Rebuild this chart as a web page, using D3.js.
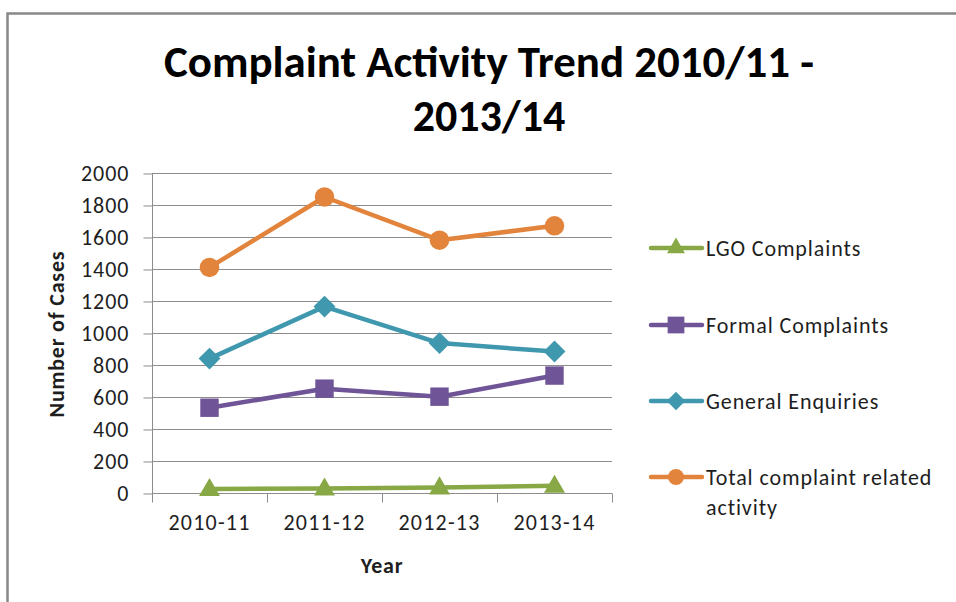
<!DOCTYPE html>
<html>
  <head>
    <title>Complaint Activity Trend</title>
    <script src="https://d3js.org/d3.v7.min.js"></script>
    <style>
      body {
        margin: 0;
        background: #fff;
      }
      svg text {
        font-family: Carlito, Lato, sans-serif;
        fill: #1e1e1e;
      }
    </style>
  </head>
  <body>
    <script>
      const years = ['2010-11', '2011-12', '2012-13', '2013-14'];
      const lgoComplaints = [25, 28, 35, 45];
      const formalComplaints = [533, 652, 602, 734];
      const generalEnquiries = [840, 1165, 937, 884];
      const totalActivity = [1410, 1850, 1580, 1670];
      const seriesNames = ['LGO Complaints', 'Formal Complaints', 'General Enquiries', 'Total complaint related activity'];
      const yTicks = [0, 200, 400, 600, 800, 1000, 1200, 1400, 1600, 1800, 2000];

      const w = 956;
      const h = 602;

      const series = [
        {name: seriesNames[0], values: lgoComplaints, color: '#87a845', shape: 'triangle'},
        {name: seriesNames[1], values: formalComplaints, color: '#6f5597', shape: 'square'},
        {name: seriesNames[2], values: generalEnquiries, color: '#3f98ae', shape: 'diamond'},
        {name: seriesNames[3], values: totalActivity, color: '#e2843c', shape: 'circle'}
      ];

      const xScale = d3.scaleBand()
                       .domain(years)
                       .range([152, 612]);

      const yScale = d3.scaleLinear()
                       .domain([0, 2000])
                       .range([493, 173]);

      const svg = d3.select('body')
                    .append('svg')
                    .attr('width', w)
                    .attr('height', h);

      // outer chart border (runs off the right and bottom of the picture)
      svg.append('path')
         .attr('d', `M7.5,${h + 5} V13.5 H${w + 5}`)
         .attr('fill', 'none')
         .attr('stroke', '#888')
         .attr('stroke-width', 2.5);

      // title
      const title = svg.append('text')
                       .attr('text-anchor', 'middle')
                       .style('font-size', '44px')
                       .style('font-weight', 'bold')
                       .style('fill', '#000');
      title.append('tspan').attr('x', 489).attr('y', 77)
           .attr('textLength', 650).attr('lengthAdjust', 'spacingAndGlyphs')
           .text('Complaint Activity Trend 2010/11 -');
      title.append('tspan').attr('x', 489).attr('y', 131)
           .text('2013/14');

      // gridlines
      svg.append('g')
         .selectAll('line')
         .data(yTicks.filter(d => d > 0))
         .enter()
         .append('line')
         .attr('x1', 152)
         .attr('x2', 612)
         .attr('y1', d => Math.round(yScale(d)) + 0.5)
         .attr('y2', d => Math.round(yScale(d)) + 0.5)
         .attr('stroke', '#8c8c8c')
         .attr('stroke-width', 1);

      const yAxis = d3.axisLeft(yScale)
                      .tickValues(yTicks)
                      .tickFormat(d3.format('d'))
                      .tickSize(9)
                      .tickPadding(14);

      const gy = svg.append('g')
                    .attr('id', 'y-axis')
                    .attr('transform', 'translate(152.5, 0.5)')
                    .call(yAxis);
      gy.select('.domain').attr('stroke', '#8c8c8c').attr('d', 'M0,173V493');
      gy.selectAll('.tick line').attr('stroke', '#8c8c8c');
      gy.selectAll('.tick text')
        .style('font-size', '22px')
        .style('letter-spacing', '1px')
        .style('font-family', 'Carlito, Lato, sans-serif')
        .attr('fill', '#1e1e1e');

      const xAxis = d3.axisBottom(xScale)
                      .tickSize(0)
                      .tickPadding(21);

      const gx = svg.append('g')
                    .attr('id', 'x-axis')
                    .attr('transform', 'translate(0, 493.5)')
                    .call(xAxis);
      gx.select('.domain').attr('stroke', '#8c8c8c').attr('d', 'M152,0H612');
      gx.selectAll('.tick text')
        .style('font-size', '22px')
        .style('letter-spacing', '1.2px')
        .style('font-family', 'Carlito, Lato, sans-serif')
        .attr('fill', '#1e1e1e');

      // category boundary ticks
      const bounds = years.map(d => xScale(d)).concat([xScale.range()[1]]);
      gx.selectAll('.bound')
        .data(bounds)
        .enter()
        .append('line')
        .attr('class', 'bound')
        .attr('x1', d => Math.round(d) + 0.5)
        .attr('x2', d => Math.round(d) + 0.5)
        .attr('y1', 0)
        .attr('y2', 9)
        .attr('stroke', '#8c8c8c');

      // axis titles
      svg.append('text')
         .attr('transform', 'translate(64, 334) rotate(-90)')
         .attr('text-anchor', 'middle')
         .style('font-size', '22px')
         .style('letter-spacing', '0.8px')
         .style('font-weight', 'bold')
         .text('Number of Cases');

      svg.append('text')
         .attr('x', 382)
         .attr('y', 573)
         .attr('text-anchor', 'middle')
         .style('font-size', '22px')
         .style('letter-spacing', '0.8px')
         .style('font-weight', 'bold')
         .text('Year');

      const squareSym = d3.symbol().type(d3.symbolSquare);
      const symbolFor = {
        triangle: {d: d3.symbol().type(d3.symbolTriangle).size(190)(), rot: 0},
        square: {d: squareSym.size(340)(), rot: 0},
        diamond: {d: squareSym.size(240)(), rot: 45},
        circle: {d: d3.symbol().type(d3.symbolCircle).size(300)(), rot: 0}
      };

      const cx = d => xScale(d) + xScale.bandwidth() / 2;

      const line = d3.line()
                     .x(d => cx(d.year))
                     .y(d => yScale(d.value));

      series.forEach(s => {
        const pts = years.map((y, i) => ({year: y, value: s.values[i]}));
        const g = svg.append('g');
        g.append('path')
         .datum(pts)
         .attr('d', line)
         .attr('fill', 'none')
         .attr('stroke', s.color)
         .attr('stroke-width', 4.5)
         .attr('stroke-linejoin', 'round');
        g.selectAll('path.marker')
         .data(pts)
         .enter()
         .append('path')
         .attr('class', 'marker')
         .attr('d', symbolFor[s.shape].d)
         .attr('transform', d => `translate(${cx(d.year)}, ${yScale(d.value) + (s.shape === 'triangle' ? 1 : 0)}) rotate(${symbolFor[s.shape].rot})`)
         .attr('fill', s.color);
      });

      // legend
      const legendY = [248, 325, 401, 477];
      const legendSymbol = {
        triangle: {d: d3.symbol().type(d3.symbolTriangle).size(140)(), rot: 0},
        square: {d: squareSym.size(280)(), rot: 0},
        diamond: {d: squareSym.size(170)(), rot: 45},
        circle: {d: d3.symbol().type(d3.symbolCircle).size(200)(), rot: 0}
      };
      const legend = svg.append('g')
                        .selectAll('g')
                        .data(series)
                        .enter()
                        .append('g')
                        .attr('transform', (d, i) => `translate(0, ${legendY[i]})`);
      legend.append('line')
            .attr('x1', 651)
            .attr('x2', 702)
            .attr('stroke', d => d.color)
            .attr('stroke-width', 4.5)
            .attr('stroke-linecap', 'round');
      legend.append('path')
            .attr('d', d => legendSymbol[d.shape].d)
            .attr('transform', d => `translate(676, 0) rotate(${legendSymbol[d.shape].rot})`)
            .attr('fill', d => d.color);
      legend.append('text')
            .attr('x', 706)
            .attr('y', 8)
            .style('font-size', '22px')
            .style('letter-spacing', '0.9px')
            .each(function(d, i) {
              const t = d3.select(this);
              if (i === 3) {
                t.append('tspan').attr('x', 706).text('Total complaint related');
                t.append('tspan').attr('x', 706).attr('dy', 30).text('activity');
              } else {
                t.text(d.name);
              }
            });
    </script>
  </body>
</html>
